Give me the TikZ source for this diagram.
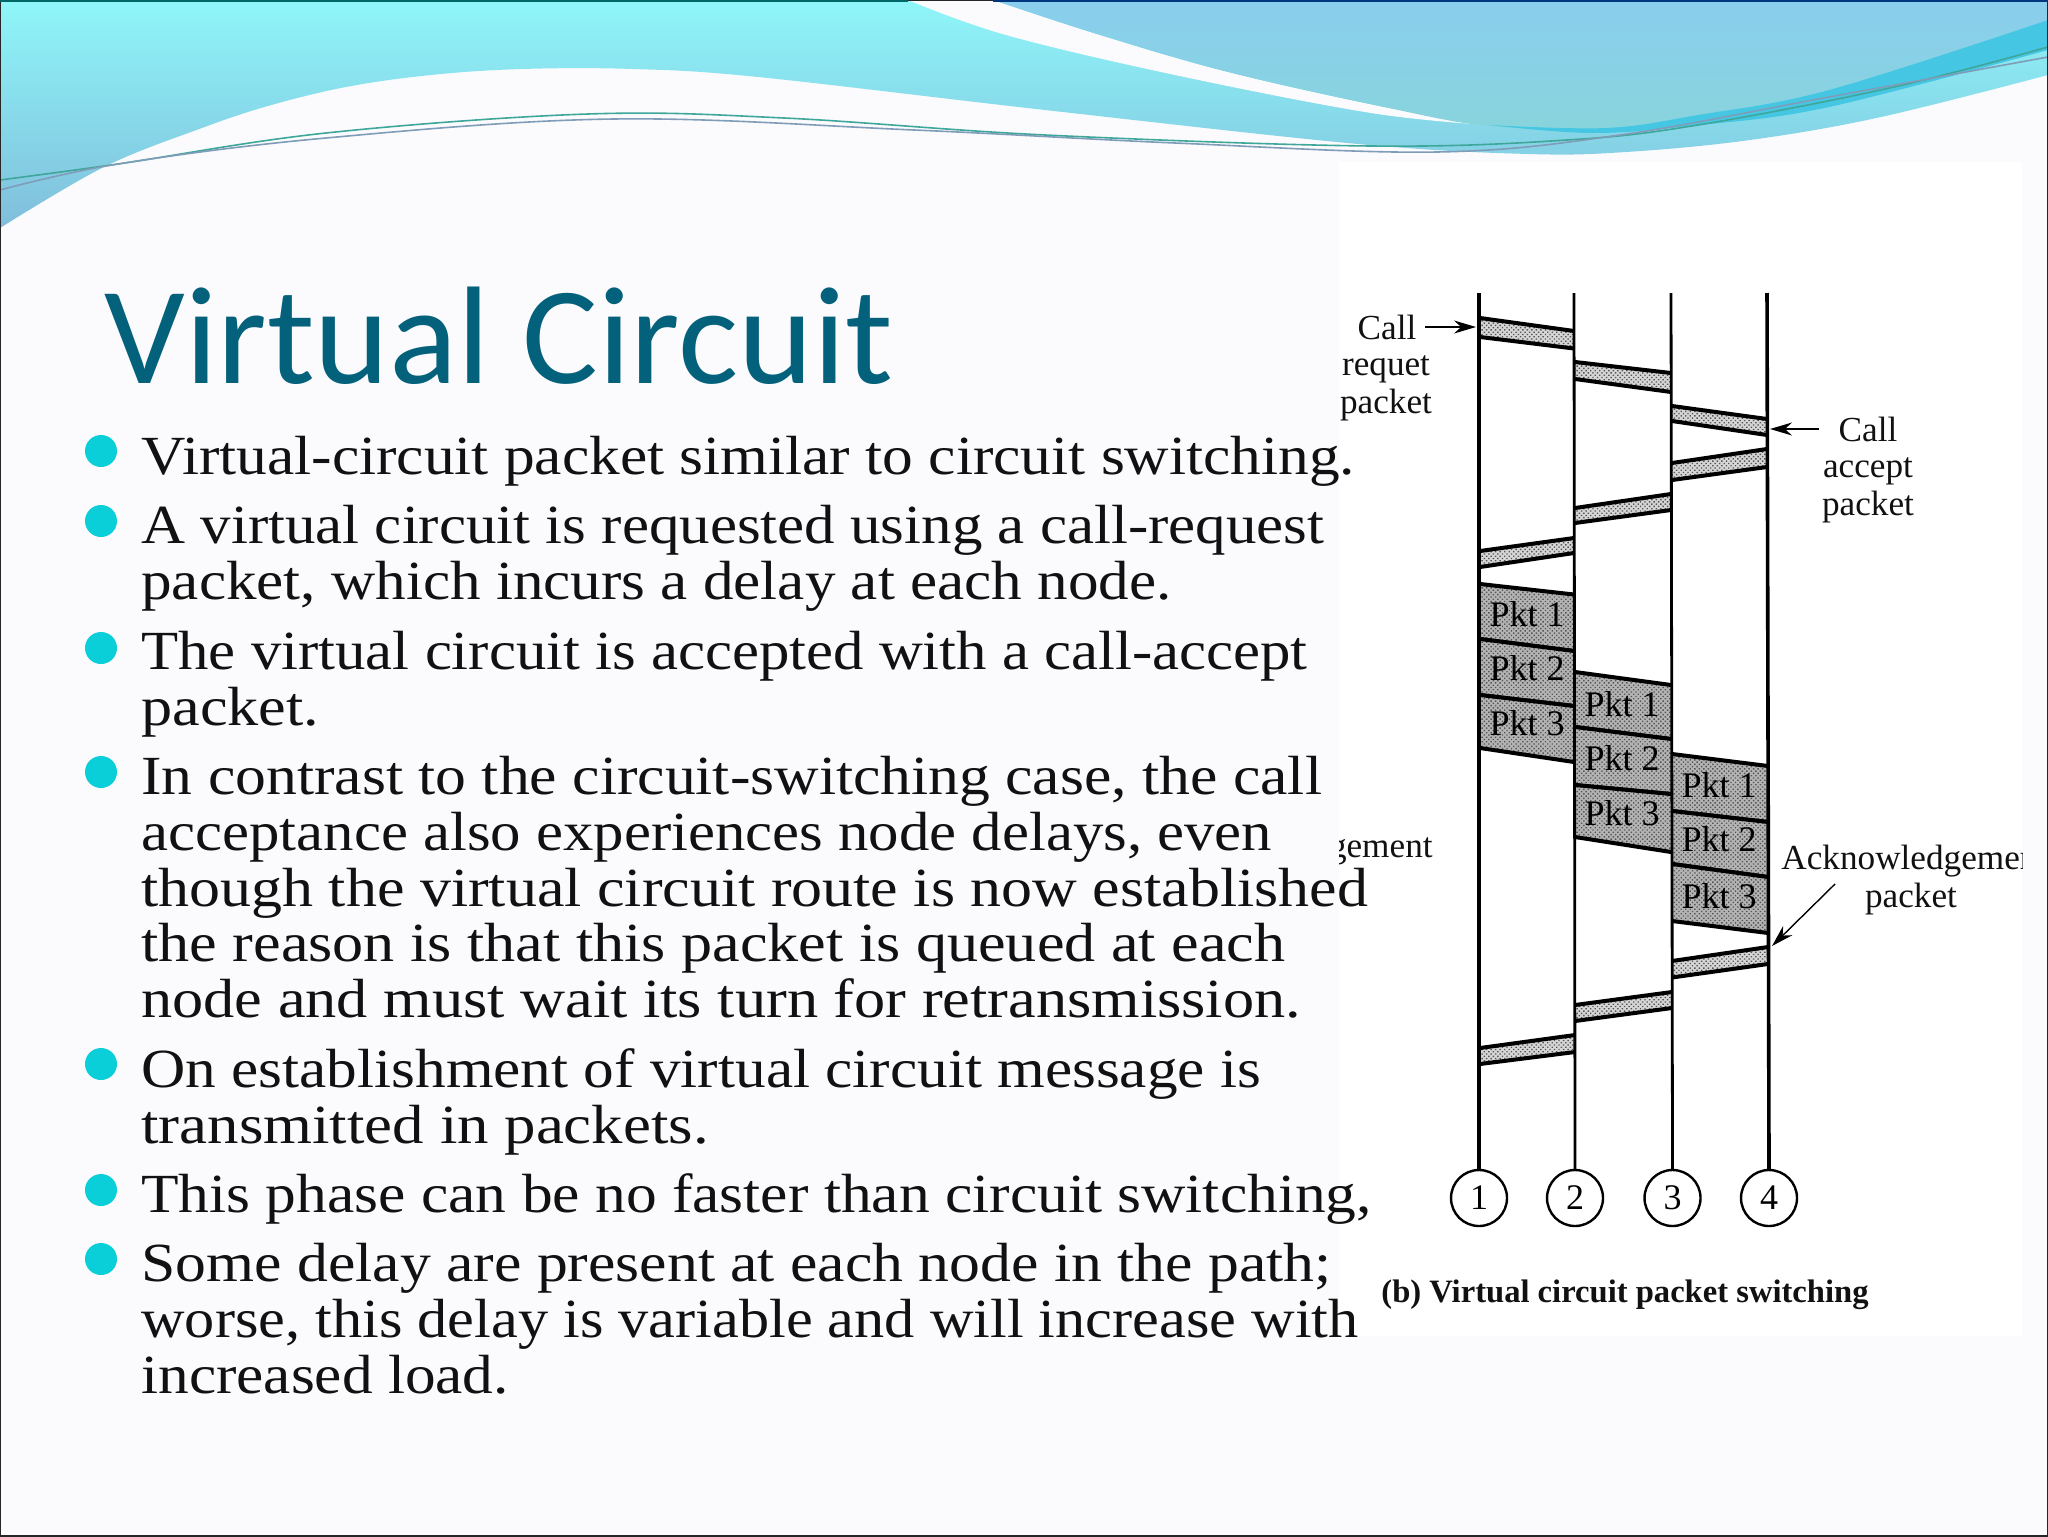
\documentclass[tikz,border=0pt]{standalone}
\usepackage{fontspec}
\setmainfont{Liberation Serif}
\newfontfamily\titlefont[FakeStretch=1.023]{Carlito}
\newfontfamily\bodyfont[FakeStretch=1.11]{Liberation Serif}
\usetikzlibrary{arrows.meta,shapes.geometric,patterns.meta}
\definecolor{bgpage}{HTML}{FBFBFD}
\definecolor{titleblue}{HTML}{04617B}
\definecolor{bulletcyan}{HTML}{0BCFD8}
\definecolor{cyantop}{HTML}{8FF6F9}
\definecolor{cyanmid}{HTML}{7FD6E6}
\definecolor{cyanlow}{HTML}{80BEDB}
\definecolor{bluetop}{HTML}{89CEEE}
\definecolor{bluelow}{HTML}{88D4DC}
\definecolor{bandcyan}{HTML}{45C6E3}
\definecolor{wavegreen}{HTML}{3FA79A}
\definecolor{wavegray}{HTML}{7F9DB8}
\definecolor{pktgray}{HTML}{B4B4B4}
\definecolor{bargray}{HTML}{D6D6D6}
\definecolor{dotgray}{HTML}{555555}
\definecolor{ink}{HTML}{111111}
\tikzset{
  bodyline/.style={anchor=base west,inner sep=0pt,font=\bodyfont\fontsize{27.6}{30}\selectfont,text=ink},
  bulletdot/.style={circle,fill=bulletcyan,inner sep=0pt,minimum size=16pt},
  figlabel/.style={inner sep=0pt,font=\fontsize{17.6}{20}\selectfont,text=ink},
  pktlabel/.style={inner sep=0pt,font=\fontsize{18}{20}\selectfont,text=black},
  nodering/.style={circle,draw=black,line width=1.2pt,fill=white,minimum size=28pt,inner sep=0pt,font=\fontsize{18}{20}\selectfont},
  heavyline/.style={line width=1.8pt,black},
  lightline/.style={line width=1.4pt,black},
  edgeline/.style={line width=2pt,black},
  callarrow/.style={line width=0.7pt,black,-{Stealth[length=11pt,width=6.5pt]}},
  waveline/.style={line width=0.8pt},
  stipple/.style={pattern={Dots[distance=1.6pt,radius=0.5pt,angle=45]},pattern color=dotgray}
}
% band between two verticals: x-left, y-left top, y-left bottom, x-right, y-right top, y-right bottom, fill
\newcommand{\pktband}[7]{%
  \fill[#7] (#1,#2) -- (#4,#5) -- (#4,#6) -- (#1,#3) -- cycle;
  \path[stipple] (#1,#2) -- (#4,#5) -- (#4,#6) -- (#1,#3) -- cycle;
  \draw[edgeline] (#1,#2) -- (#4,#5);
  \draw[edgeline] (#1,#3) -- (#4,#6);
}
\newcommand{\fitline}[2]{\scalebox{#1}[1]{#2}}
\begin{document}
\begin{tikzpicture}[x=0.5pt,y=-0.5pt]
\useasboundingbox (0,0) rectangle (2048,1536);
\fill[bgpage] (0,0) rectangle (2048,1536);
% image panel
\fill[white] (1339,162) rectangle (2022,1336);
% header waves
\shade[top color=cyantop,middle color=cyanmid,bottom color=cyanlow]
  (0,0) -- (2048,0) -- (2048,75)
  -- plot[smooth,tension=0.6] coordinates {(2048,75) (1881,117) (1750,140) (1626,152) (1528,154) (1358,144) (1045,110) (758,77) (633,69) (522,69) (431,75) (346,87) (268,106) (202,128) (104,167) (0,228)} -- cycle;
\fill[bgpage] (908,0) -- plot[smooth,tension=0.6] coordinates {(908,0) (1006,35) (1175,75) (1371,113) (1489,125)}
  -- plot[smooth,tension=0.6] coordinates {(1489,125) (1384,107) (1228,72) (1100,35) (993,0)} -- cycle;
\shade[top color=bluetop,bottom color=bluelow]
  (993,0) -- (2048,0) -- (2048,20)
  -- plot[smooth,tension=0.6] coordinates {(2048,20) (1829,90) (1698,115) (1606,128) (1489,126) (1384,107) (1228,72) (1100,35) (993,0)} -- cycle;
\fill[bandcyan] (1489,125) -- plot[smooth,tension=0.6] coordinates {(1489,125) (1606,128) (1698,115) (1829,90) (2048,20)}
  -- (2048,50) -- plot[smooth,tension=0.6] coordinates {(2048,50) (1829,107) (1700,125) (1593,133) (1489,125)} -- cycle;
\draw[waveline,wavegreen] plot[smooth,tension=0.6] coordinates {(0,180) (118,164) (326,133) (588,114) (784,118) (1045,135) (1371,146) (1567,140) (1698,125) (1894,87) (2048,47)};
\draw[waveline,wavegray] plot[smooth,tension=0.6] coordinates {(0,190) (118,164) (326,138) (614,119) (914,130) (1175,143) (1437,152) (1620,135) (1829,97) (2048,57)};
% frame
\draw[line width=0.8pt,black!85] (0,0) rectangle (2048,1536);
\draw[line width=1.2pt,teal!80!black] (0,1) -- (908,1);
\draw[line width=1.2pt,blue!40!teal!70!black] (993,1) -- (2048,1);
% title
\node[name=title,anchor=base west,inner sep=0pt,text=titleblue,font=\titlefont\fontsize{69.5}{80}\selectfont] at (104,383) {Virtual Circuit};
% bullets
\node[bulletdot] (b1) at (101,451) {};
\node[bulletdot] (b2) at (101,521) {};
\node[bulletdot] (b3) at (101,648) {};
\node[bulletdot] (b4) at (101,772) {};
\node[bulletdot] (b5) at (101,1064) {};
\node[bulletdot] (b6) at (101,1190) {};
\node[bulletdot] (b7) at (101,1259) {};
% figure
\coordinate (t1) at (1479,293);
\coordinate (t2) at (1574,293);
\coordinate (t3) at (1671,293);
\coordinate (t4) at (1767,293);
\node[nodering] (n1) at (1479,1198) {1};
\node[nodering] (n2) at (1575,1198) {2};
\node[nodering] (n3) at (1672.5,1198) {3};
\node[nodering] (n4) at (1769,1198) {4};
% request bands
\pktband{1480}{318}{337}{1574}{331}{348.5}{bargray}
\pktband{1575}{362}{379}{1671}{373}{392}{bargray}
\pktband{1672}{406}{421}{1767}{419}{435}{bargray}
% accept bands
\pktband{1672}{463}{480}{1767}{449}{467}{bargray}
\pktband{1575}{508}{523}{1671}{494}{510}{bargray}
\pktband{1480}{551}{567}{1574}{538}{553}{bargray}
% packets
\pktband{1480}{584}{639}{1574}{594.5}{651}{pktgray}
\pktband{1480}{639}{695}{1574}{651}{706}{pktgray}
\pktband{1480}{695}{748}{1574}{706}{762}{pktgray}
\pktband{1575}{672}{727}{1671}{685}{739}{pktgray}
\pktband{1575}{727}{785}{1671}{739}{794}{pktgray}
\pktband{1575}{785}{837}{1671}{794}{852}{pktgray}
\pktband{1672}{754}{811}{1768}{766}{822}{pktgray}
\pktband{1672}{811}{864}{1768}{822}{877}{pktgray}
\pktband{1672}{864}{921}{1768}{877}{933}{pktgray}
% ack bands
\pktband{1672}{961}{977.5}{1768}{947}{964}{bargray}
\pktband{1575}{1005}{1021}{1672}{992}{1008}{bargray}
\pktband{1480}{1048}{1064}{1575}{1035}{1052}{bargray}
% verticals
\draw[heavyline] (t1) -- (n1.north);
\draw[lightline] (t2) -- (n2.north);
\draw[lightline] (t3) -- (n3.north);
\draw[heavyline] (t4) -- (n4.north);
% packet labels
\node[pktlabel] (p11) at (1527,614) {Pkt 1};
\node[pktlabel] (p12) at (1527,668) {Pkt 2};
\node[pktlabel] (p13) at (1527,723) {Pkt 3};
\node[pktlabel] (p21) at (1622,704) {Pkt 1};
\node[pktlabel] (p22) at (1622,758) {Pkt 2};
\node[pktlabel] (p23) at (1622,813) {Pkt 3};
\node[pktlabel] (p31) at (1719,785) {Pkt 1};
\node[pktlabel] (p32) at (1719,839) {Pkt 2};
\node[pktlabel] (p33) at (1719,896) {Pkt 3};
% figure labels
\node[figlabel] (c1) at (1387,327) {Call};
\node[figlabel] (c2) at (1386,369) {requet};
\node[figlabel] (c3) at (1386,405) {packet};
\node[figlabel] (a1) at (1868,429) {Call};
\node[figlabel] (a2) at (1868,471) {accept};
\node[figlabel] (a3) at (1868,507) {packet};
\begin{scope}
\clip (1339,162) rectangle (2022,1336);
\node[figlabel,anchor=east] (k0) at (1433,851) {gement};
\node[figlabel,anchor=west] (k1) at (1781,861) {Acknowledgement};
\end{scope}
\node[figlabel] (k2) at (1911,899) {packet};
\node[figlabel,font=\fontsize{16.3}{18}\selectfont\bfseries,anchor=west] (cap) at (1381,1295) {(b) Virtual circuit packet switching};
\coordinate (r1) at (1476,327);
\coordinate (r2) at (1770,429);
\coordinate (r3) at (1772,946);
\coordinate (s3) at (1835,884);
\draw[callarrow] (c1) ++(38,0) coordinate (s1) -- (r1);
\draw[callarrow] (a1) ++(-49,0) coordinate (s2) -- (r2);
\draw[callarrow] (s3) -- (r3);
% body text
\node[bodyline] (l1) at (141,474) {\fitline{1.002}{Virtual-circuit packet similar to circuit switching.}};
\node[bodyline] (l2) at (141,543) {\fitline{0.9945}{A virtual circuit is requested using a call-request}};
\node[bodyline] (l3) at (141,599) {\fitline{0.9975}{packet, which incurs a delay at each node.}};
\node[bodyline] (l4) at (141,669) {\fitline{0.992}{The virtual circuit is accepted with a call-accept}};
\node[bodyline] (l5) at (141,725) {\fitline{1.015}{packet.}};
\node[bodyline] (l6) at (141,794) {\fitline{1.0056}{In contrast to the circuit-switching case, the call}};
\node[bodyline] (l7) at (141,850) {\fitline{0.992}{acceptance also experiences node delays, even}};
\node[bodyline] (l8) at (141,906) {\fitline{1.011}{though the virtual circuit route is now established}};
\node[bodyline] (l9) at (141,961) {\fitline{1.014}{the reason is that this packet is queued at each}};
\node[bodyline] (l10) at (141,1017) {\fitline{1.017}{node and must wait its turn for retransmission.}};
\node[bodyline] (l11) at (141,1087) {On establishment of virtual circuit message is};
\node[bodyline] (l12) at (141,1143) {\fitline{1.026}{transmitted in packets.}};
\node[bodyline] (l13) at (141,1212) {\fitline{1.003}{This phase can be no faster than circuit switching,}};
\node[bodyline] (l14) at (141,1281) {\fitline{1.0066}{Some delay are present at each node in the path;}};
\node[bodyline] (l15) at (141,1337) {\fitline{0.984}{worse, this delay is variable and will increase with}};
\node[bodyline] (l16) at (141,1393) {increased load.};
\end{tikzpicture}
\end{document}
